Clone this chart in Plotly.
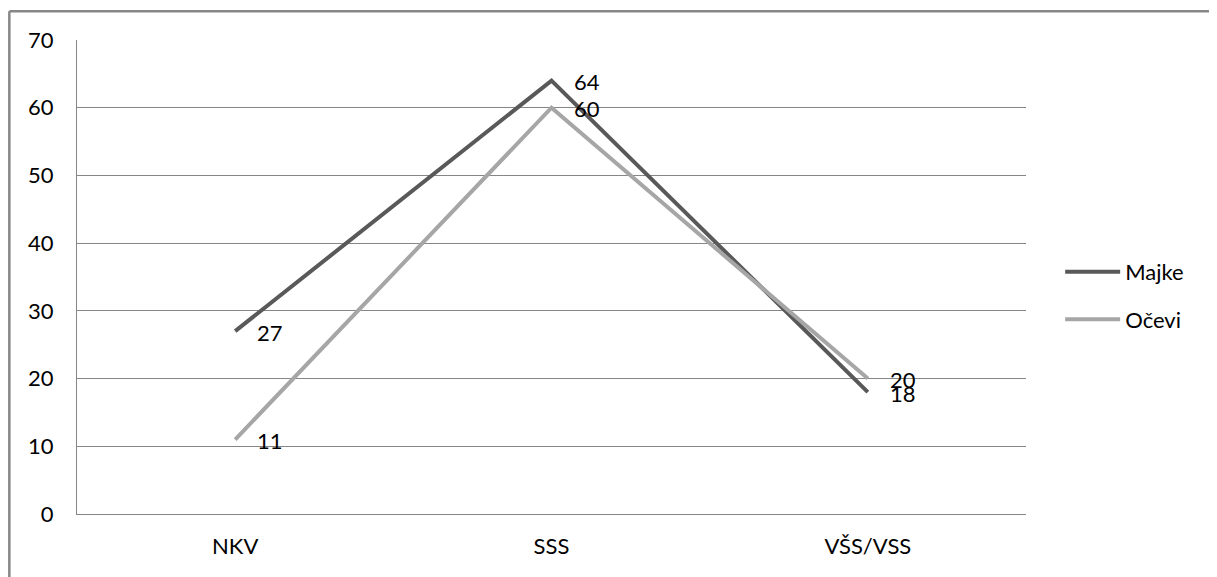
import plotly.graph_objects as go

categories = ["NKV", "SSS", "VŠS/VSS"]
majke = [27, 64, 18]
ocevi = [11, 60, 20]
series_names = ["Majke", "Očevi"]
y_ticks = [0, 10, 20, 30, 40, 50, 60, 70]

FONT = "Lato"
colors = ["#595959", "#A6A6A6"]

fig = go.Figure()
for i, (name, vals) in enumerate(zip(series_names, [majke, ocevi])):
    fig.add_trace(go.Scatter(
        x=categories, y=vals, mode="lines", name=name,
        line=dict(color=colors[i], width=4),
        legendgroup=name,
    ))
    for c, v in zip(categories, vals):
        fig.add_annotation(x=c, y=v, text=str(v), showarrow=False,
                           xanchor="left", yanchor="middle", xshift=20, yshift=-1,
                           font=dict(family=FONT, size=22, color="#000000"))

# outer chart border (top and left edges visible)
fig.add_shape(type="line", xref="paper", yref="paper",
              x0=-0.0713, x1=1.3, y0=1.0605, y1=1.0605,
              line=dict(color="#878787", width=2.5))
fig.add_shape(type="line", xref="paper", yref="paper",
              x0=-0.0713, x1=-0.0713, y0=-0.2, y1=1.0605,
              line=dict(color="#878787", width=2.5))

fig.update_layout(
    width=1217, height=577,
    margin=dict(l=69, r=199, t=32, b=71),
    paper_bgcolor="white", plot_bgcolor="white",
    font=dict(family=FONT, size=22, color="#000000"),
    showlegend=True,
    legend=dict(x=1.036, y=0.46, xanchor="left", yanchor="middle",
                traceorder="grouped", tracegroupgap=16,
                font=dict(family=FONT, size=22, color="#000000"),
                bgcolor="rgba(0,0,0,0)", itemwidth=55),
    xaxis=dict(type="category", range=[-0.5, 2.5], showgrid=False,
               showline=True, linecolor="#868686", linewidth=1,
               ticks="", ticklabelstandoff=13, zeroline=False),
    yaxis=dict(range=[0, 70], tickvals=y_ticks, showgrid=True,
               gridcolor="#868686", gridwidth=1,
               showline=True, linecolor="#868686", linewidth=1,
               ticks="", ticklabelstandoff=18, zeroline=False),
)

fig.write_html("out.html")
